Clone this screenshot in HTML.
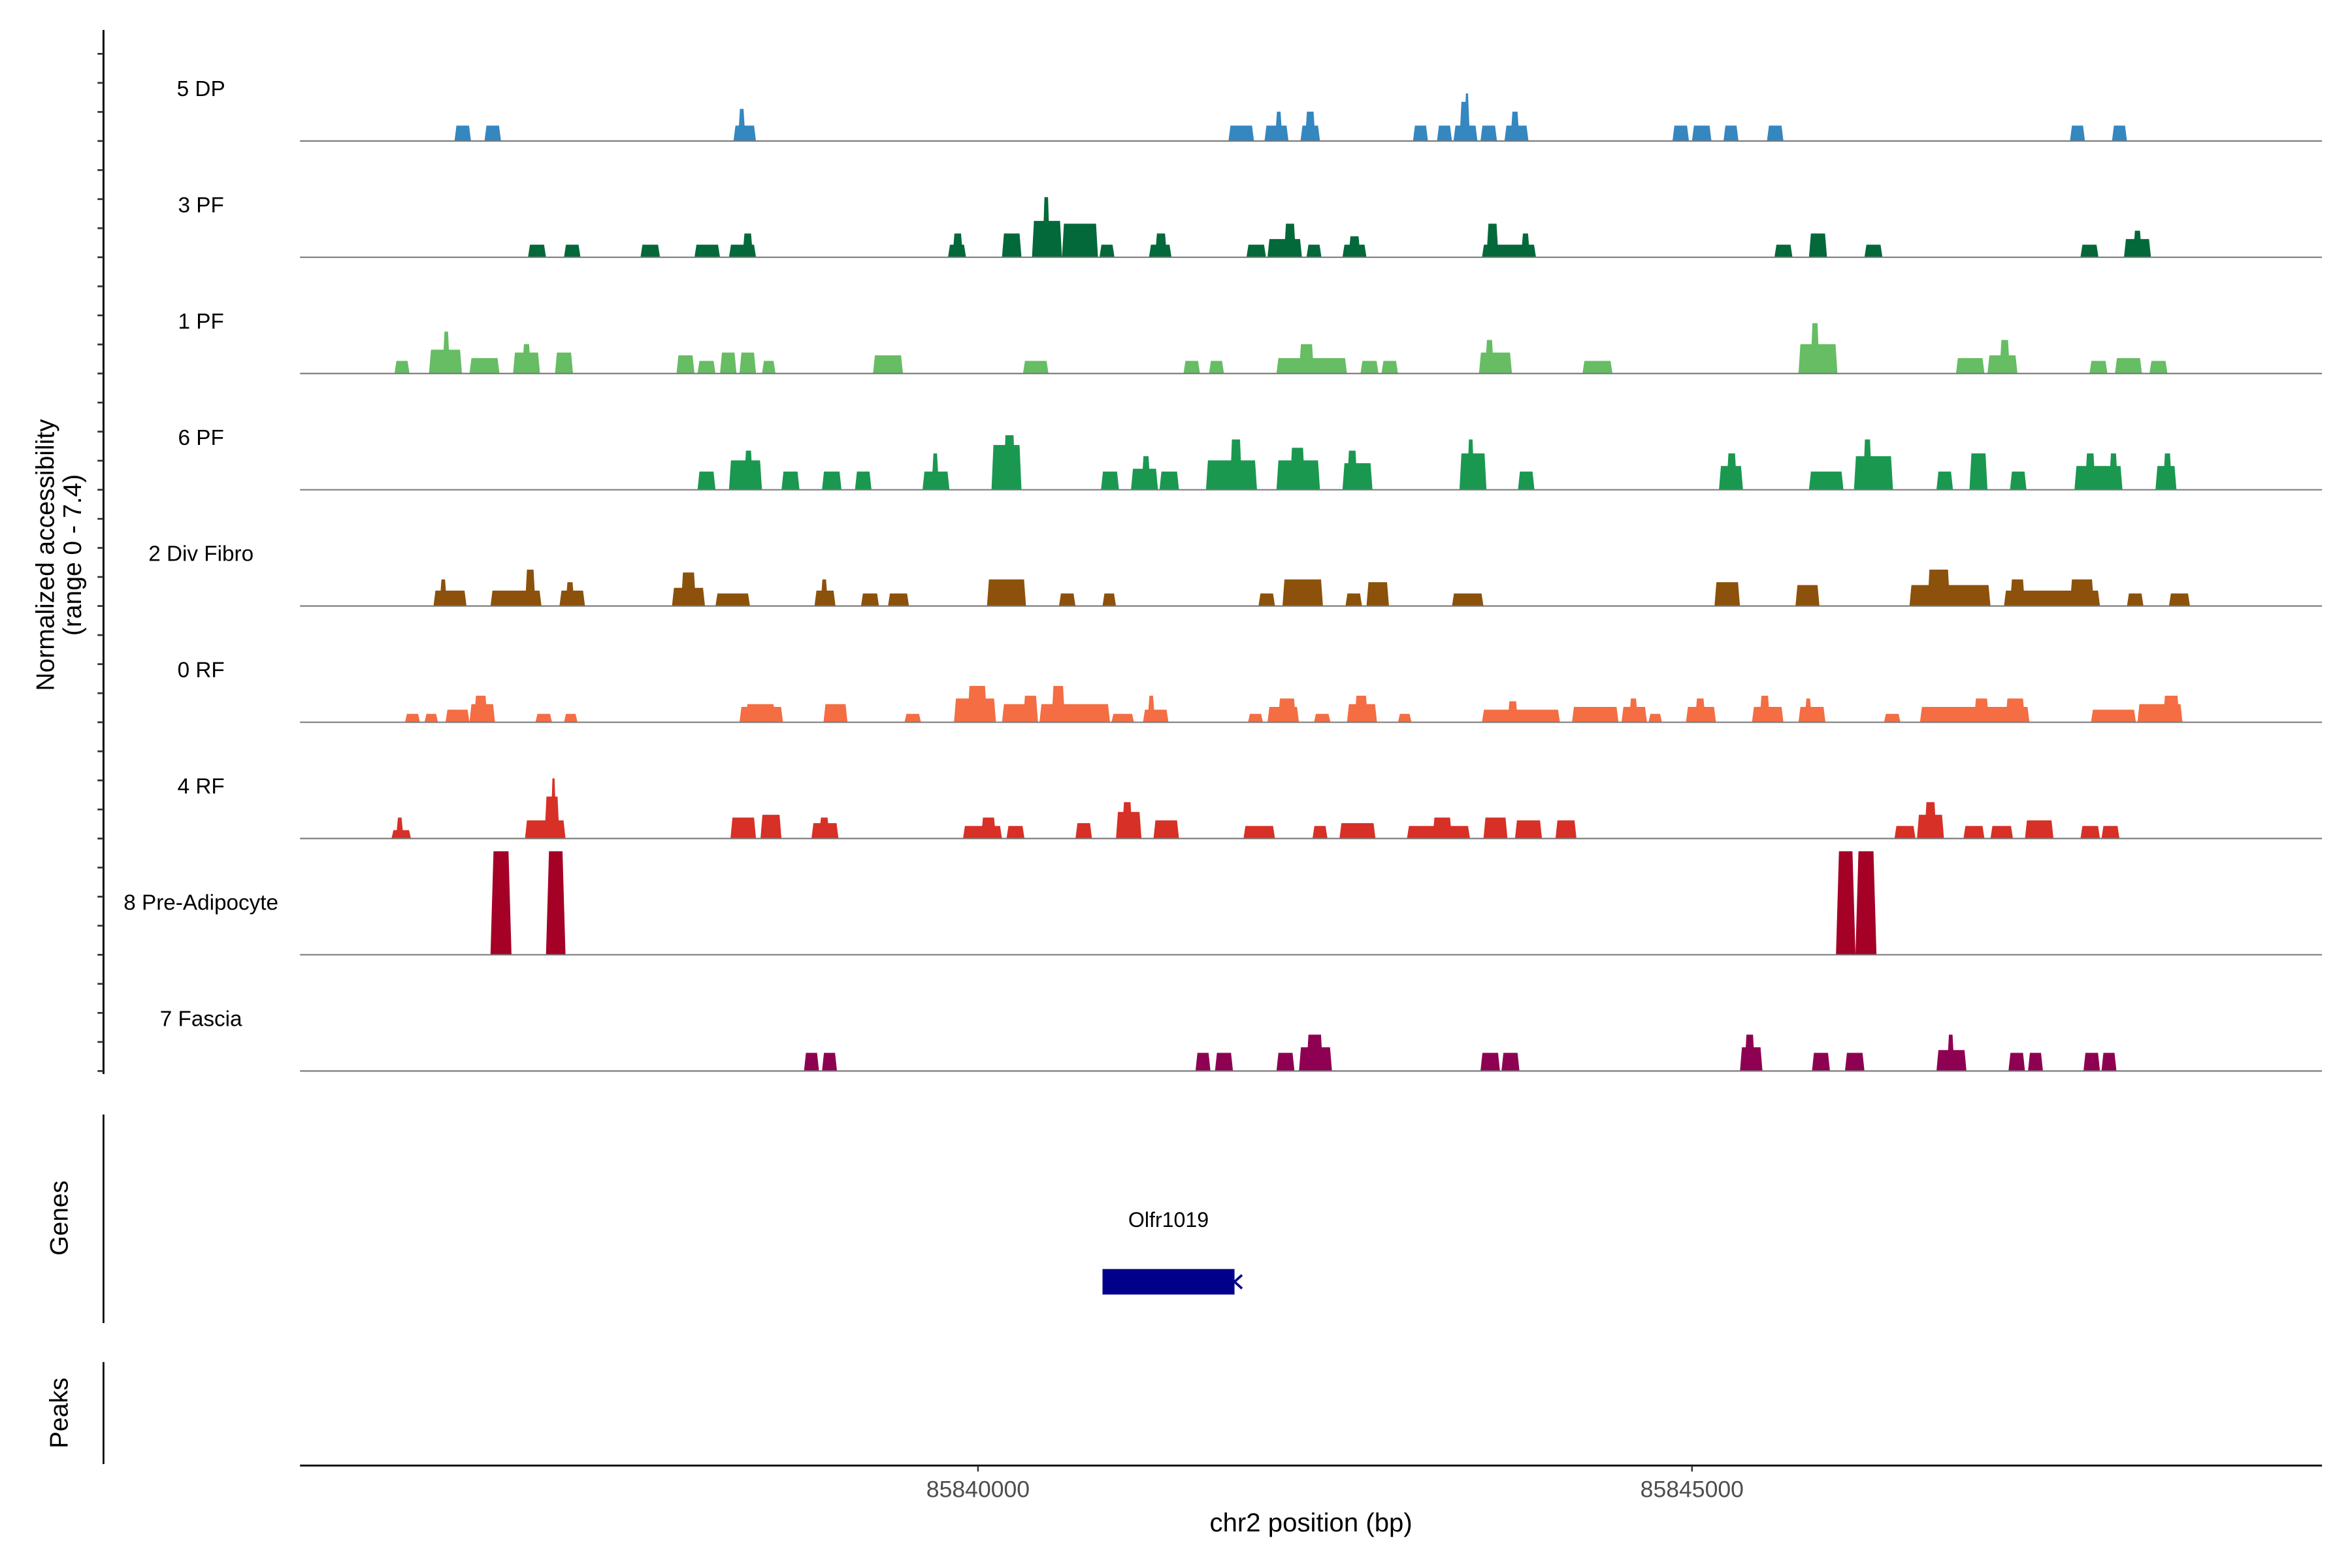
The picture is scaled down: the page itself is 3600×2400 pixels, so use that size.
<!DOCTYPE html>
<html><head><meta charset="utf-8"><style>html,body{margin:0;padding:0;background:#fff}svg{display:block}</style></head>
<body>
<svg id="chart" width="3600" height="2400" viewBox="0 0 1568 1045.3" preserveAspectRatio="none" xmlns="http://www.w3.org/2000/svg" font-family="Liberation Sans, sans-serif">
<rect width="1600" height="1060" fill="#fff"/>
<g id="tracks"></g>
<g id="yaxis"></g>
<text transform="translate(36,370) rotate(-90)" text-anchor="middle" font-size="17">Normalized accessibility</text>
<text transform="translate(54,370) rotate(-90)" text-anchor="middle" font-size="17">(range 0 - 7.4)</text>
<line x1="69" y1="743" x2="69" y2="882" stroke="#000" stroke-width="1.2"/>
<text transform="translate(45,812) rotate(-90)" text-anchor="middle" font-size="17">Genes</text>
<text x="779" y="818" text-anchor="middle" font-size="14">Olfr1019</text>
<rect x="735" y="846" width="88" height="17" fill="#00008b"/>
<path d="M828,850 L823,854.5 L828,859" fill="none" stroke="#00008b" stroke-width="1.6"/>
<line x1="69" y1="908" x2="69" y2="976" stroke="#000" stroke-width="1.2"/>
<text transform="translate(45,942) rotate(-90)" text-anchor="middle" font-size="17">Peaks</text>
<line x1="200" y1="977" x2="1548" y2="977" stroke="#000" stroke-width="1.3"/>
<g id="xaxis"></g>
<text x="874" y="1021" text-anchor="middle" font-size="17.5">chr2 position (bp)</text>
</svg>
<script>
const regionStart = 85835252;
const binSize = 10.504;
const yMax = 7.4;
const trackNames = ["5 DP","3 PF","1 PF","6 PF","2 Div Fibro","0 RF","4 RF","8 Pre-Adipocyte","7 Fascia"];
const trackColors = ["#3587c0","#04693a","#66bd63","#1a9850","#8c510a","#f46d43","#d73027","#a50026","#8e0152"];
const xTicks = [85840000, 85845000];
const xTickLabels = ["85840000","85845000"];
// segments: [startBin, endBin, value]
const dp5 = [[103,114,1.1],[123,134,1.1],[289,304,1.1],[292,297,2.3],[619,636,1.1],[643,659,1.1],[650,655,2.1],[667,680,1.1],[670,677,2.1],[742,752,1.1],[758,768,1.1],[769,785,1.1],[773,780,2.8],[776,780,3.4],[787,798,1.1],[803,819,1.1],[807,813,2.1],[915,926,1.1],[928,941,1.1],[949,959,1.1],[978,989,1.1],[1180,1190,1.1],[1208,1218,1.1]];
const pf3 = [[152,164,0.9],[176,187,0.9],[227,240,0.9],[263,280,0.9],[286,304,0.9],[295,302,1.7],[432,444,0.9],[435,442,1.7],[468,481,1.7],[488,508,2.6],[495,500,4.3],[508,532,2.4],[533,543,0.9],[566,581,0.9],[570,578,1.7],[631,644,0.9],[645,668,1.3],[656,664,2.4],[671,681,0.9],[695,711,0.9],[699,707,1.5],[788,824,0.9],[791,799,2.4],[814,820,1.7],[983,995,0.9],[1006,1018,1.7],[1043,1055,0.9],[1187,1199,0.9],[1216,1234,1.3],[1222,1228,1.9]];
const pf1 = [[63,73,0.9],[86,108,1.7],[95,100,3.0],[113,133,1.1],[142,160,1.5],[148,154,2.1],[170,182,1.5],[251,263,1.3],[265,277,0.9],[280,291,1.5],[293,304,1.5],[308,317,0.9],[382,402,1.3],[482,499,0.9],[589,600,0.9],[606,616,0.9],[651,698,1.1],[666,676,2.1],[707,719,0.9],[721,732,0.9],[786,808,1.5],[790,796,2.4],[855,875,0.9],[999,1025,2.1],[1007,1013,3.6],[1104,1123,1.1],[1125,1145,1.3],[1133,1140,2.4],[1193,1205,0.9],[1210,1228,1.1],[1233,1245,0.9]];
const pf6 = [[265,277,1.3],[286,308,2.1],[296,302,2.8],[321,333,1.3],[348,361,1.3],[370,381,1.3],[415,433,1.3],[421,426,2.6],[461,481,3.2],[469,477,3.9],[534,546,1.3],[554,572,1.5],[561,567,2.4],[573,586,1.3],[604,638,2.1],[620,628,3.6],[651,680,2.1],[660,670,3.0],[695,715,1.9],[698,705,2.8],[773,791,2.6],[778,783,3.6],[812,823,1.3],[946,962,1.7],[951,958,2.6],[1006,1029,1.3],[1036,1062,2.4],[1042,1048,3.6],[1091,1102,1.3],[1113,1125,2.6],[1140,1151,1.3],[1183,1215,1.7],[1190,1197,2.6],[1206,1212,2.6],[1237,1251,1.7],[1242,1248,2.6]];
const divFibro2 = [[89,111,1.1],[93,98,1.9],[127,161,1.1],[150,157,2.6],[173,190,1.1],[177,183,1.7],[248,270,1.3],[254,264,2.4],[277,300,0.9],[343,357,1.1],[347,352,1.9],[374,386,0.9],[392,406,0.9],[458,484,1.9],[506,517,0.9],[535,544,0.9],[639,650,0.9],[655,682,1.9],[697,708,0.9],[711,726,1.7],[768,789,0.9],[943,960,1.7],[997,1013,1.5],[1073,1127,1.5],[1085,1100,2.6],[1136,1200,1.1],[1140,1150,1.9],[1180,1196,1.9],[1218,1229,0.9],[1246,1260,0.9]];
const rf0 = [[70,80,0.6],[83,92,0.6],[97,113,0.9],[113,130,1.3],[116,125,1.9],[157,168,0.6],[176,185,0.6],[293,322,1.1],[297,317,1.3],[349,365,1.3],[403,414,0.6],[436,464,1.7],[445,458,2.6],[468,492,1.3],[482,492,1.9],[493,540,1.3],[501,510,2.6],[541,556,0.6],[562,579,0.9],[565,570,1.9],[632,642,0.6],[645,666,1.1],[652,664,1.7],[676,687,0.6],[698,718,1.3],[703,712,1.9],[732,741,0.6],[788,840,0.9],[805,812,1.5],[848,879,1.1],[881,898,1.1],[886,892,1.7],[899,908,0.6],[924,944,1.1],[930,937,1.7],[968,989,1.1],[973,980,1.9],[999,1017,1.1],[1003,1008,1.7],[1056,1067,0.6],[1080,1153,1.1],[1116,1126,1.7],[1137,1150,1.7],[1194,1224,0.9],[1225,1255,1.3],[1242,1253,1.9]];
const rf4 = [[61,74,0.6],[64,69,1.5],[150,177,1.3],[163,173,3.0],[167,171,4.3],[287,304,1.5],[307,321,1.7],[341,359,1.1],[346,353,1.5],[442,468,0.9],[454,464,1.5],[471,483,0.9],[517,528,1.1],[544,561,1.9],[548,555,2.6],[569,586,1.3],[629,650,0.9],[675,685,0.9],[693,717,1.1],[738,780,0.9],[755,768,1.5],[789,805,1.5],[810,828,1.3],[837,851,1.3],[1063,1077,0.9],[1078,1096,1.7],[1083,1091,2.6],[1109,1123,0.9],[1127,1142,0.9],[1150,1169,1.3],[1187,1200,0.9],[1201,1213,0.9]];
const preAdipo8 = [[127,141,7.4],[164,177,7.4],[1024,1037,7.4],[1037,1051,7.4]];
const fascia7 = [[336,346,1.3],[348,358,1.3],[597,607,1.3],[610,622,1.3],[651,663,1.3],[666,688,1.7],[671,682,2.6],[787,800,1.3],[801,813,1.3],[960,975,1.7],[963,970,2.6],[1008,1020,1.3],[1030,1043,1.3],[1091,1111,1.5],[1098,1103,2.6],[1139,1150,1.3],[1152,1162,1.3],[1189,1200,1.3],[1201,1211,1.3]];
const trackData = [dp5,pf3,pf1,pf6,divFibro2,rf0,rf4,preAdipo8,fascia7];

const NS = "http://www.w3.org/2000/svg";
const plotX0 = 200, plotX1 = 1548, pxPerBp = 476/5000;
const firstBase = 94, trackStep = 77.5, trackH = 69;
function xScale(bp){ return plotX0 + (bp - regionStart) * pxPerBp; }
function binToX(b){ return xScale(regionStart + b * binSize); }
function baseY(i){ return firstBase + i * trackStep; }
function yScale(i, v){ return baseY(i) - v / yMax * trackH; }

const tracks = document.getElementById('tracks');
trackData.forEach((segs, i) => {
  const g = document.createElementNS(NS, 'g');
  
  
  segs.forEach(s => {
    const x1 = binToX(s[0]), x2 = binToX(s[1]);
    const yb = baseY(i), yt = yScale(i, s[2]);
    const inset = Math.min(s[2] > 5 ? 2 : 1.3, (x2 - x1) / 3);
    const p = document.createElementNS(NS, 'path');
    p.setAttribute('d', `M${x1},${yb} L${x1+inset},${yt} L${x2-inset},${yt} L${x2},${yb} Z`);
    p.setAttribute('fill', trackColors[i]);
    
    
    g.appendChild(p);
  });
  const bl = document.createElementNS(NS, 'line');
  bl.setAttribute('x1', plotX0); bl.setAttribute('x2', plotX1);
  bl.setAttribute('y1', baseY(i)); bl.setAttribute('y2', baseY(i));
  bl.setAttribute('stroke', '#777'); bl.setAttribute('stroke-width', '0.9');
  
  
  g.appendChild(bl);
  const t = document.createElementNS(NS, 'text');
  t.setAttribute('x', 134); t.setAttribute('y', baseY(i) - 30);
  t.setAttribute('text-anchor', 'middle'); t.setAttribute('font-size', '14.5');
  t.textContent = trackNames[i];
  
  
  g.appendChild(t);
  tracks.appendChild(g);
});

const ya = document.getElementById('yaxis');
const axl = document.createElementNS(NS, 'line');
axl.setAttribute('x1', 69); axl.setAttribute('x2', 69); axl.setAttribute('y1', 20); axl.setAttribute('y2', 716);
axl.setAttribute('stroke', '#000'); axl.setAttribute('stroke-width', '1.3');


ya.appendChild(axl);
for (let y = baseY(8); y > 30; y -= trackStep / 4) {
  const tk = document.createElementNS(NS, 'line');
  tk.setAttribute('x1', 65); tk.setAttribute('x2', 69); tk.setAttribute('y1', y); tk.setAttribute('y2', y);
  tk.setAttribute('stroke', '#333'); tk.setAttribute('stroke-width', '1.2');
  
  
  ya.appendChild(tk);
}

const xa = document.getElementById('xaxis');
xTicks.forEach((v, k) => {
  const x = xScale(v);
  const tk = document.createElementNS(NS, 'line');
  tk.setAttribute('x1', x); tk.setAttribute('x2', x); tk.setAttribute('y1', 977); tk.setAttribute('y2', 981);
  tk.setAttribute('stroke', '#333'); tk.setAttribute('stroke-width', '1.1');
  
  
  xa.appendChild(tk);
  const t = document.createElementNS(NS, 'text');
  t.setAttribute('x', x); t.setAttribute('y', 998);
  t.setAttribute('text-anchor', 'middle'); t.setAttribute('font-size', '15.5'); t.setAttribute('fill', '#4d4d4d');
  t.textContent = xTickLabels[k];
  
  
  xa.appendChild(t);
});
</script>
</body></html>
